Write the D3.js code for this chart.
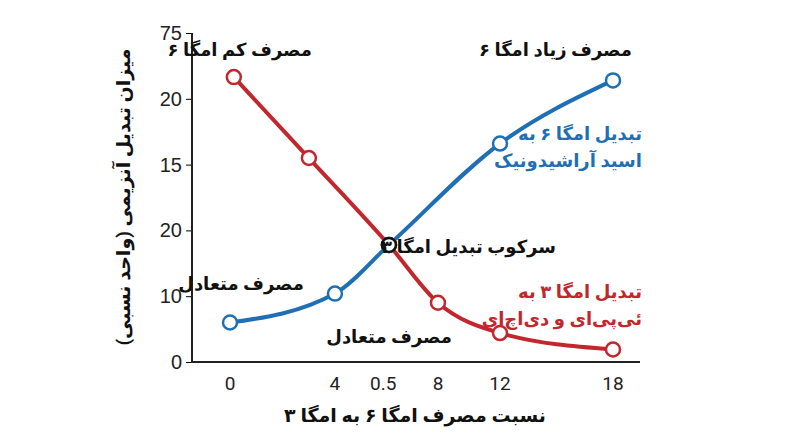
<!DOCTYPE html>
<html><head><meta charset="utf-8">
<script src="https://cdn.jsdelivr.net/npm/d3@7"></script>
<style>body{margin:0;background:#fff}svg{font-family:Roboto,"DejaVu Sans",sans-serif}</style>
</head><body><svg id="chart" width="800" height="447"></svg>
<script>
// x positions on a 0..100 track, y in tick units (0..5)
const tickLabelsX = ['0', '4', '0.5', '8', '12', '18'];
const tickPosX = [0, 27.4, 40, 54.3, 70.5, 100];
const tickLabelsY = ['0', '10', '20', '15', '20', '75'];
const redX = [1, 20.6, 41.5, 54.3, 70.5, 100];
const redY = [4.33, 3.1, 1.78, 0.9, 0.44, 0.19];
const blueX = [0, 27.4, 41.5, 70.5, 100];
const blueY = [0.6, 1.04, 1.78, 3.32, 4.28];
const cross = [41.5, 1.78];

const svg = d3.select('#chart');
const x = d3.scaleLinear().domain([0, 100]).range([230, 613]);
const y = d3.scaleLinear().domain([0, 5]).range([362, 33]);
const red = '#c1272d', blue = '#1f6fb4';

svg.append('g').attr('transform', 'translate(192,0)')
    .call(d3.axisLeft(y).tickValues(d3.range(6)).tickFormat(i => tickLabelsY[i]).tickSize(6).tickPadding(4))
    .call(g => g.select('.domain').remove())
    .selectAll('text').attr('font-size', 20).attr('fill', '#222');
svg.append('path').attr('d', 'M192,33V362H640').attr('fill', 'none').attr('stroke', '#222').attr('stroke-width', 2);
svg.selectAll('.xt').data(tickPosX).enter().append('text')
    .attr('x', d => x(d)).attr('y', 390).attr('text-anchor', 'middle')
    .attr('font-size', 19).attr('fill', '#222').text((d, i) => tickLabelsX[i]);

const line = d3.line().curve(d3.curveMonotoneX);
function series(xs, ys, color) {
    const pts = xs.map((d, i) => [x(d), y(ys[i])]);
    svg.append('path').attr('d', line(pts)).attr('fill', 'none').attr('stroke', color).attr('stroke-width', 4);
    svg.selectAll(null).data(pts).enter().append('circle')
        .attr('cx', d => d[0]).attr('cy', d => d[1]).attr('r', 7)
        .attr('fill', '#fff').attr('stroke', color).attr('stroke-width', 2.5);
}
series(redX, redY, red);
series(blueX, blueY, blue);
svg.append('circle').attr('cx', x(cross[0])).attr('cy', y(cross[1])).attr('r', 7)
    .attr('fill', '#fff').attr('stroke', '#111').attr('stroke-width', 2.5);

// [right edge, baseline, text, colour]
const labels = [
    [312, 56, 'مصرف کم امگا ۶', '#111'],
    [632, 56, 'مصرف زیاد امگا ۶', '#111'],
    [304, 290, 'مصرف متعادل', '#111'],
    [452, 343, 'مصرف متعادل', '#111'],
    [556, 253, 'سرکوب تبدیل امگا ۳', '#111'],
    [642, 140, 'تبدیل امگا ۶ به', blue],
    [642, 167, 'اسید آراشیدونیک', blue],
    [642, 298, 'تبدیل امگا ۳ به', red],
    [642, 325, 'ئی‌پی‌ای و دی‌اچ‌ای', red]
];
svg.selectAll('.lb').data(labels).enter().append('text')
    .attr('x', d => d[0]).attr('y', d => d[1]).attr('text-anchor', 'start').attr('direction', 'rtl')
    .attr('font-size', 18).attr('font-weight', 700).attr('fill', d => d[3]).text(d => d[2]);

svg.append('text').attr('x', 415).attr('y', 422).attr('text-anchor', 'middle')
    .attr('font-size', 19).attr('font-weight', 700).attr('fill', '#111').text('نسبت مصرف امگا ۶ به امگا ۳');
svg.append('text').attr('transform', 'translate(130,197) rotate(-90)').attr('text-anchor', 'middle')
    .attr('font-size', 19).attr('font-weight', 700).attr('fill', '#111').text('میزان تبدیل آنزیمی (واحد نسبی)');
</script></body></html>
